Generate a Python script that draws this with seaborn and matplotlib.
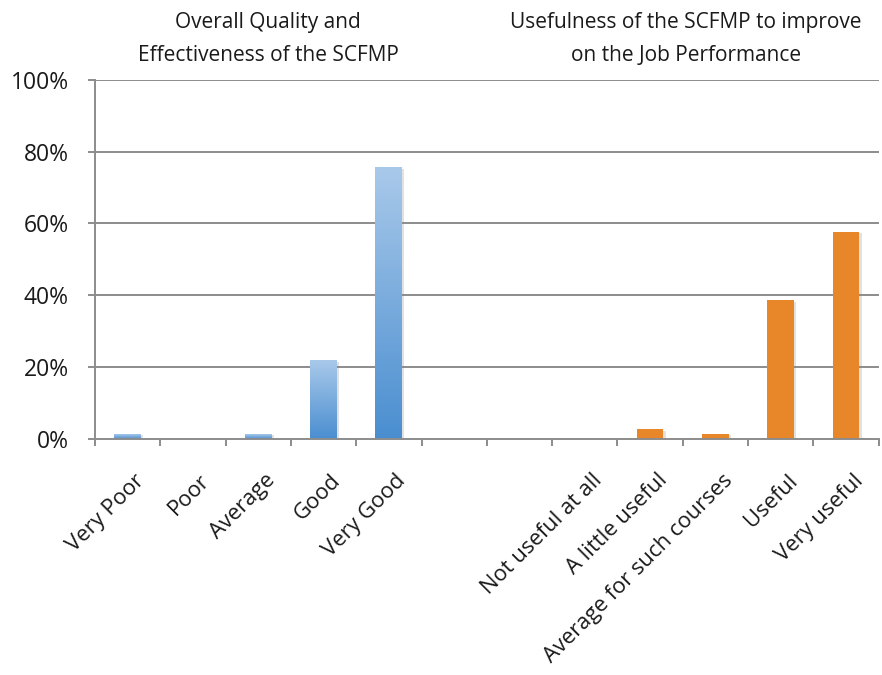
import numpy as np
import pandas as pd
import matplotlib
matplotlib.use("Agg")
import matplotlib.pyplot as plt
import matplotlib.patheffects as pe
import matplotlib.transforms as mtransforms
from matplotlib.colors import LinearSegmentedColormap
import seaborn as sns

# Survey response shares (%)
quality_labels = ["Very Poor", "Poor", "Average", "Good", "Very Good"]
quality_values = [1.28, 0.0, 1.28, 21.8, 75.6]
useful_labels = ["Not useful at all", "A little useful", "Average for such courses", "Useful", "Very useful"]
useful_values = [0.0, 2.56, 1.28, 38.5, 57.7]
spacers = [" ", "  "]
titles = ["Overall Quality and\nEffectiveness of the SCFMP",
          "Usefulness of the SCFMP to improve\non the Job Performance"]
y_ticks = [0, 20, 40, 60, 80, 100]

df = pd.DataFrame({
    "category": quality_labels + useful_labels,
    "value": quality_values + useful_values,
    "group": ["quality"] * 5 + ["useful"] * 5,
})
order = quality_labels + spacers + useful_labels

sns.set_theme(style="white")
plt.rcParams["font.family"] = ["Open Sans", "DejaVu Sans"]

GRID = "#8c8c8c"
TEXT = "#1a1a1a"
fig = plt.figure(figsize=(8.82, 6.75), dpi=100)
ax = fig.add_axes([95 / 882, 1 - 438.5 / 675, (878.6 - 95) / 882, (438.5 - 80) / 675])

sns.barplot(data=df, x="category", y="value", hue="group", order=order,
            palette={"quality": "#6da3db", "useful": "#e8862a"}, saturation=1,
            dodge=False, width=0.41, legend=False, ax=ax, zorder=3,
            linewidth=0)

# gradient fill for the blue bars and soft shadows for all bars
blue_cmap = LinearSegmentedColormap.from_list("bluegrad", ["#4a8ed0", "#a9c9ea"])
grad = np.linspace(0, 1, 256).reshape(-1, 1)
for bar in ax.patches:
    h = bar.get_height()
    if not np.isfinite(h) or h <= 0:
        continue
    bar.set_path_effects([pe.SimplePatchShadow(offset=(1.6, -1.0), shadow_rgbFace="#8a8a8a", alpha=0.25),
                          pe.Normal()])
    x0 = bar.get_x()
    w = bar.get_width()
    fc = bar.get_facecolor()
    if fc[2] > fc[0]:
        im = ax.imshow(grad, cmap=blue_cmap, origin="lower", aspect="auto",
                       extent=[x0, x0 + w, 0, h], zorder=3.5, interpolation="bicubic")
        im.set_clip_path(bar)

ax.set_xlim(-0.5, len(order) - 0.5)
ax.set_ylim(0, 100)

# gridlines
ax.set_yticks(y_ticks)
ax.set_yticklabels([f"{v}%" for v in y_ticks])
for v in y_ticks[1:]:
    ax.axhline(v, color=GRID, linewidth=1.4, zorder=1)

# spines
for s in ["top", "right"]:
    ax.spines[s].set_visible(False)
for s in ["left", "bottom"]:
    ax.spines[s].set_color(GRID)
    ax.spines[s].set_linewidth(1.4)
    ax.spines[s].set_zorder(4)

# category tick marks sit on the boundaries between slots
ax.set_xticks(np.arange(len(order)))
ax.set_xticklabels(order)
ax.set_xticks(np.arange(len(order) + 1) - 0.5, minor=True)
ax.tick_params(axis="x", which="major", length=0, pad=28)
ax.tick_params(axis="x", which="minor", length=5, width=1.4, color=GRID, direction="out", bottom=True)
ax.tick_params(axis="y", which="major", length=5, width=1.4, color=GRID, direction="out", left=True, pad=14)
shift = mtransforms.ScaledTranslation(14 / 100, 0, fig.dpi_scale_trans)
for lbl in ax.get_xticklabels():
    lbl.set_rotation(45)
    lbl.set_ha("right")
    lbl.set_va("center")
    lbl.set_rotation_mode("anchor")
    lbl.set_fontsize(15.8)
    lbl.set_color(TEXT)
    lbl.set_transform(lbl.get_transform() + shift)
for lbl in ax.get_yticklabels():
    lbl.set_fontsize(16.5)
    lbl.set_color(TEXT)

ax.set_xlabel("")
ax.set_ylabel("")

# panel headings
fig.text(268 / 882, 1 - 39 / 675, titles[0], ha="center", va="center",
         fontsize=15, color=TEXT, linespacing=1.75)
fig.text(686 / 882, 1 - 39 / 675, titles[1], ha="center", va="center",
         fontsize=15, color=TEXT, linespacing=1.75)

fig.savefig("out.png", dpi=100, facecolor="white")
